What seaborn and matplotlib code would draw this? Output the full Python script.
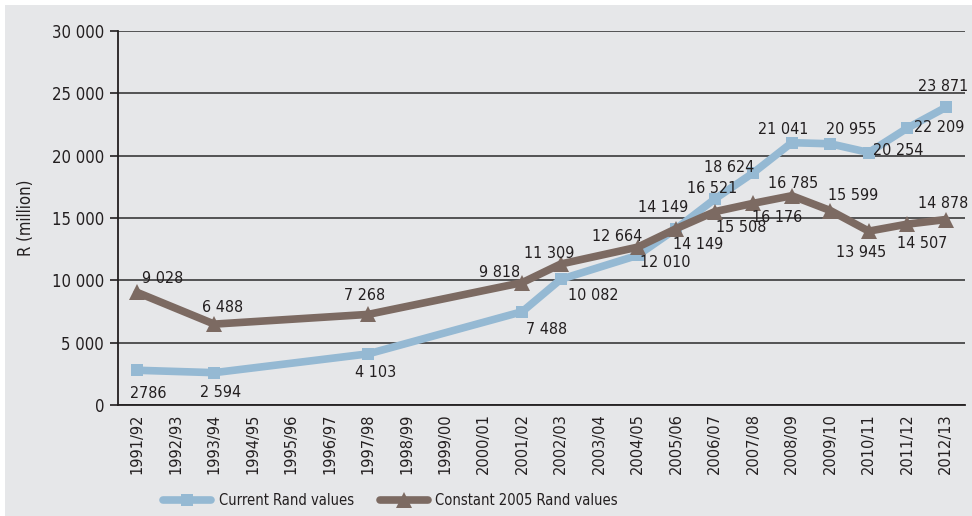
import numpy as np
import pandas as pd
import matplotlib
matplotlib.use("Agg")
import matplotlib.pyplot as plt
import matplotlib.ticker as mticker
from matplotlib.patches import Rectangle
import seaborn as sns

# financial years on the x axis
years = ["1991/92", "1992/93", "1993/94", "1994/95", "1995/96", "1996/97",
         "1997/98", "1998/99", "1999/00", "2000/01", "2001/02", "2002/03",
         "2003/04", "2004/05", "2005/06", "2006/07", "2007/08", "2008/09",
         "2009/10", "2010/11", "2011/12", "2012/13"]

# values in R million, None where no figure is given
current = [2786, None, 2594, None, None, None, 4103, None, None, None, 7488,
           10082, None, 12010, 14149, 16521, 18624, 21041, 20955, 20254,
           22209, 23871]
constant = [9028, None, 6488, None, None, None, 7268, None, None, None, 9818,
            11309, None, 12664, 14149, 15508, 16176, 16785, 15599, 13945,
            14507, 14878]

# where each data label sits relative to its point (pixels)
cur_off = [(11, -23), None, (6, -20), None, None, None, (7, -19), None, None,
           None, (24, -18), (33, -16), None, (28, -7), (22, -16), (-3, 11),
           (-24, 5), (-9, 13), (21, 14), (29, 2), (32, 1), (-3, 21)]
con_off = [(25, 14), None, (8, 17), None, None, None, (-4, 19), None, None,
           None, (-23, 10), (-12, 11), None, (-21, 11), (-13, 21), (26, -16),
           (24, -14), (1, 12), (23, 15), (-8, -21), (15, -19), (-3, 16)]

df = pd.DataFrame({"pos": np.arange(len(years)), "year": years,
                   "Current": current, "Constant": constant})

bg = "#e6e7e9"
blue = "#95b9d3"
brown = "#7c6a62"
ink = "#231f20"

sns.set_style("white")
plt.rcParams["font.family"] = ["DejaVu Sans"]
plt.rcParams["font.stretch"] = "condensed"


def fmt(v, sep=" "):
    return f"{v:,.0f}".replace(",", sep)


fig = plt.figure(figsize=(9.72, 5.16), dpi=100, facecolor="white")
fig.patches.append(Rectangle((5 / 972, 0), 1, 1 - 5 / 516, transform=fig.transFigure,
                             facecolor=bg, edgecolor="none", zorder=-10))
ax = fig.add_axes([118 / 972, 111 / 516, 847 / 972, 374 / 516])
ax.set_facecolor(bg)

sns.lineplot(data=df, x="pos", y="Current", ax=ax, color=blue, linewidth=5.5,
             marker="s", markersize=9, markeredgewidth=0, label="Current Rand values",
             solid_capstyle="round", zorder=3)
sns.lineplot(data=df, x="pos", y="Constant", ax=ax, color=brown, linewidth=5.5,
             marker="^", markersize=12, markeredgewidth=0,
             label="Constant 2005 Rand values", solid_capstyle="round", zorder=4)

# data labels (the first current-value label is printed without a separator)
for name, series, offs in (("cur", current, cur_off), ("con", constant, con_off)):
    for i, (v, o) in enumerate(zip(series, offs)):
        if v is None:
            continue
        txt = fmt(v, "") if (name == "cur" and i == 0) else fmt(v)
        ax.annotate(txt, (i, v), xytext=o, textcoords="offset pixels",
                    ha="center", va="center", fontsize=11.5, color=ink, zorder=5)

ax.set_xlim(-0.5, len(years) - 0.5)
ax.set_ylim(0, 30000)
ax.yaxis.set_major_locator(mticker.MultipleLocator(5000))
ax.yaxis.set_major_formatter(mticker.FuncFormatter(lambda v, p: fmt(v)))
ax.grid(axis="y", color="#2b2b2b", linewidth=1.1)
ax.set_axisbelow(True)

# ticks at category boundaries, labels at centres
ax.set_xticks(np.arange(len(years) + 1) - 0.5)
ax.set_xticklabels([])
ax.set_xticks(np.arange(len(years)), minor=True)
ax.set_xticklabels(years, minor=True, rotation=90, fontsize=10.5, color=ink,
                   fontstretch="normal")
ax.tick_params(axis="x", which="major", length=6, width=1.2, color=ink, direction="out")
ax.tick_params(axis="x", which="minor", length=0, pad=6)
ax.tick_params(axis="y", length=6, width=1.2, color=ink, labelsize=12,
               labelcolor=ink, pad=4, left=True)

for s in ("top", "right"):
    ax.spines[s].set_visible(False)
for s in ("left", "bottom"):
    ax.spines[s].set_color(ink)
    ax.spines[s].set_linewidth(1.3)

ax.set_xlabel("")
ax.set_ylabel("R (million)", fontsize=12, color=ink, labelpad=12)

leg = ax.legend(loc="upper left", bbox_to_anchor=(150 / 972, 36 / 516),
                bbox_transform=fig.transFigure, ncol=2, frameon=False,
                fontsize=10.5, handlelength=3.3, columnspacing=1.8, handletextpad=0.5)
for t in leg.get_texts():
    t.set_color(ink)

fig.savefig("out.png", dpi=100, facecolor=fig.get_facecolor())
